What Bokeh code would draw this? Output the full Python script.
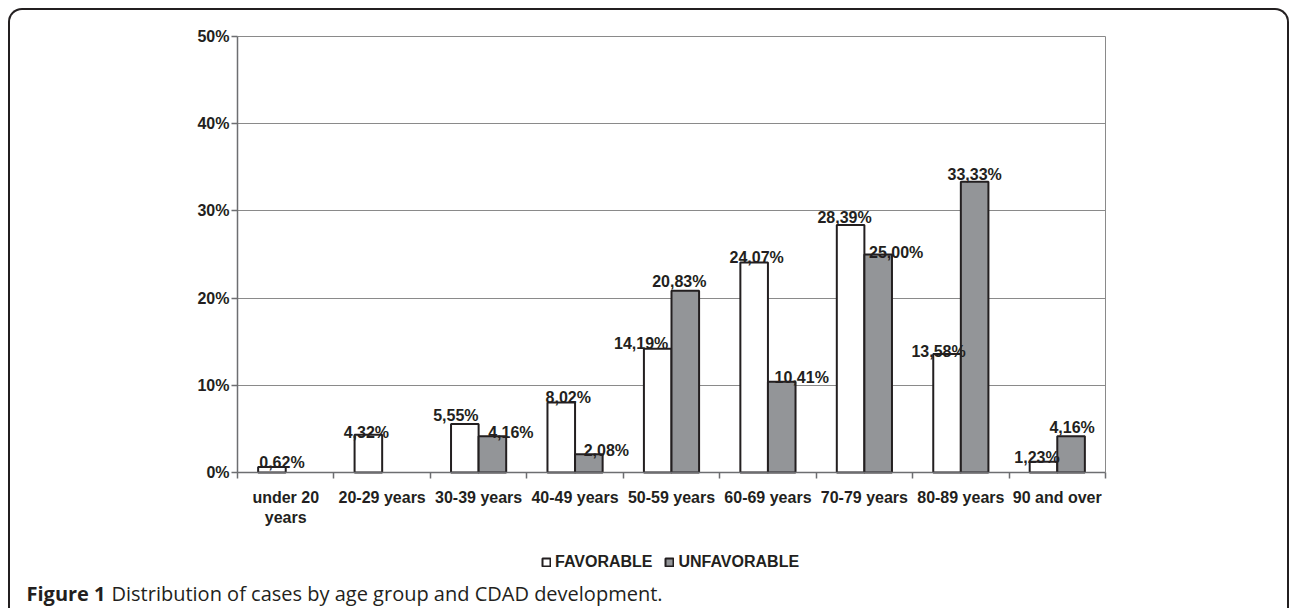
from bokeh.plotting import figure
from bokeh.models import (ColumnDataSource, FixedTicker, Legend, LegendItem, Label,
                          LinearAxis, PrintfTickFormatter, Range1d)
from bokeh.embed import file_html
from bokeh.resources import INLINE
from bokeh.core.properties import value

# ---- data ----
categories = ["under 20\nyears", "20-29 years", "30-39 years", "40-49 years", "50-59 years",
              "60-69 years", "70-79 years", "80-89 years", "90 and over"]
favorable = [0.62, 4.32, 5.55, 8.02, 14.19, 24.07, 28.39, 13.58, 1.23]
unfavorable = [0.0, 0.0, 4.16, 2.08, 20.83, 10.41, 25.00, 33.33, 4.16]
y_ticks = [0, 10, 20, 30, 40, 50]
series_names = ["FAVORABLE", "UNFAVORABLE"]
caption_bold = "Figure 1"
caption_text = "Distribution of cases by age group and CDAD development."

# ---- label nudges (pixels), as placed in the original ----
fav_dx = [10, -2, -9, 7, -16.5, 2.5, -6, -8.5, -6.5]
fav_gap = [5, 2, 9, 5, 5, 5, 7, 3, 4]
unf_dx = [0, 0, 18.5, 17.5, -6, 20, 18, 0, 1]
unf_gap = [0, 0, 4, 4, 9, 4, 2, 7, 9]

FONT = "Liberation Sans"
INK = "#231f20"
AXIS = "#6d6e71"
GRID = "#8a8a8a"
GREY_FILL = "#939598"
FS = "16px"

n = len(categories)
ymax = y_ticks[-1]
centers = [i + 0.5 for i in range(n)]
half = 0.143
bw = 0.286

# canvas geometry (px): the whole canvas is the frame; the plot area sits inside it
W, H = 1281, 600
plot_left, plot_w = 227, 868
plot_top, plot_h = 26, 436
px_x = plot_w / n
px_y = plot_h / ymax
x_start = -plot_left / px_x
y_end = ymax + plot_top / px_y

def pct(v):
    return f"{v:.2f}%".replace(".", ",")

fav_src = ColumnDataSource(dict(
    x=[c - half for c in centers], top=favorable,
    label=[pct(v) for v in favorable],
    dx=fav_dx, dy=[-g for g in fav_gap]))

keep = [i for i in range(n) if unfavorable[i] > 0]
unf_src = ColumnDataSource(dict(
    x=[centers[i] + half for i in keep], top=[unfavorable[i] for i in keep],
    label=[pct(unfavorable[i]) for i in keep],
    dx=[unf_dx[i] for i in keep], dy=[-unf_gap[i] for i in keep]))

p = figure(width=W, height=H,
           min_border_left=0, min_border_right=0, min_border_top=0, min_border_bottom=0,
           x_range=Range1d(x_start, x_start + W / px_x),
           y_range=Range1d(y_end - H / px_y, y_end),
           output_backend="svg", toolbar_location=None)
p.border_fill_color = None
p.background_fill_color = None
p.outline_line_color = None
p.styles = {
    "margin": "8px 0 0 8px",
    "border-top": f"2px solid {INK}",
    "border-left": f"2px solid {INK}",
    "border-right": f"2px solid {INK}",
    "border-top-left-radius": "14px",
    "border-top-right-radius": "14px",
}

# grid (only over the plot area)
p.xgrid.visible = False
p.ygrid.ticker = FixedTicker(ticks=y_ticks)
p.ygrid.bounds = (0, ymax)
p.ygrid.grid_line_color = GRID
p.ygrid.grid_line_width = 1
try:
    p.ygrid.cross_bounds = (0, n)
except Exception:
    p.ygrid.visible = False
    p.segment(x0=[0] * len(y_ticks), x1=[n] * len(y_ticks), y0=y_ticks, y1=y_ticks,
              line_color=GRID, line_width=1)

r_fav = p.vbar(x="x", top="top", width=bw, source=fav_src,
               fill_color="white", line_color=INK, line_width=2)
r_unf = p.vbar(x="x", top="top", width=bw, source=unf_src,
               fill_color=GREY_FILL, line_color=INK, line_width=2)

for src in (fav_src, unf_src):
    p.text(x="x", y="top", text="label", x_offset="dx", y_offset="dy", source=src,
           text_align="center", text_baseline="alphabetic",
           text_font=value(FONT), text_font_style="bold", text_font_size=FS,
           text_color=INK)

# axes pinned at the plot area's edges
p.xaxis.fixed_location = 0
p.xaxis.bounds = (0, n)
p.xaxis.ticker = FixedTicker(ticks=centers, minor_ticks=list(range(n + 1)))
p.xaxis.major_label_overrides = {c: lab for c, lab in zip(centers, categories)}
p.xaxis.major_tick_out = 0
p.xaxis.major_tick_in = 0
p.xaxis.minor_tick_out = 6
p.xaxis.minor_tick_in = 0
p.xaxis.minor_tick_line_color = AXIS
p.xaxis.minor_tick_line_width = 1.5
p.xaxis.major_label_standoff = 10

p.yaxis.fixed_location = 0
p.yaxis.bounds = (0, ymax)
p.yaxis.ticker = FixedTicker(ticks=y_ticks)
p.yaxis.formatter = PrintfTickFormatter(format="%d%%")
p.yaxis.major_tick_out = 6
p.yaxis.major_tick_in = 0
p.yaxis.minor_tick_line_color = None
p.yaxis.major_label_standoff = 2

for ax in (p.xaxis, p.yaxis):
    ax.axis_line_color = AXIS
    ax.axis_line_width = 1.5
    ax.major_tick_line_color = AXIS
    ax.major_tick_line_width = 1.5
    ax.major_label_text_font = FONT
    ax.major_label_text_font_style = "bold"
    ax.major_label_text_font_size = FS
    ax.major_label_text_color = INK

right_edge = LinearAxis(fixed_location=n, bounds=(0, ymax), ticker=FixedTicker(ticks=[]),
                        axis_line_color=GRID, axis_line_width=1,
                        major_tick_line_color=None, minor_tick_line_color=None,
                        major_label_text_font_size="0px")
p.add_layout(right_edge, "right")

legend = Legend(items=[LegendItem(label=series_names[0], renderers=[r_fav]),
                       LegendItem(label=series_names[1], renderers=[r_unf])],
                orientation="horizontal", location=(plot_left + 304, 39),
                label_text_font=FONT, label_text_font_style="bold",
                label_text_font_size=FS, label_text_color=INK,
                glyph_width=10, glyph_height=10, label_standoff=4, spacing=12,
                padding=0, margin=0, label_height=16,
                border_line_color=None, background_fill_alpha=0)
p.add_layout(legend, "center")

p.add_layout(Label(x=16, y=17, x_units="screen", y_units="screen", text=caption_bold,
                   text_font="Open Sans", text_font_style="bold",
                   text_font_size="20px", text_color=INK, text_baseline="alphabetic"))
p.add_layout(Label(x=101, y=17, x_units="screen", y_units="screen", text=caption_text,
                   text_font="Open Sans", text_font_size="20px",
                   text_color=INK, text_baseline="alphabetic"))

open("out.html", "w").write(file_html(p, INLINE))
